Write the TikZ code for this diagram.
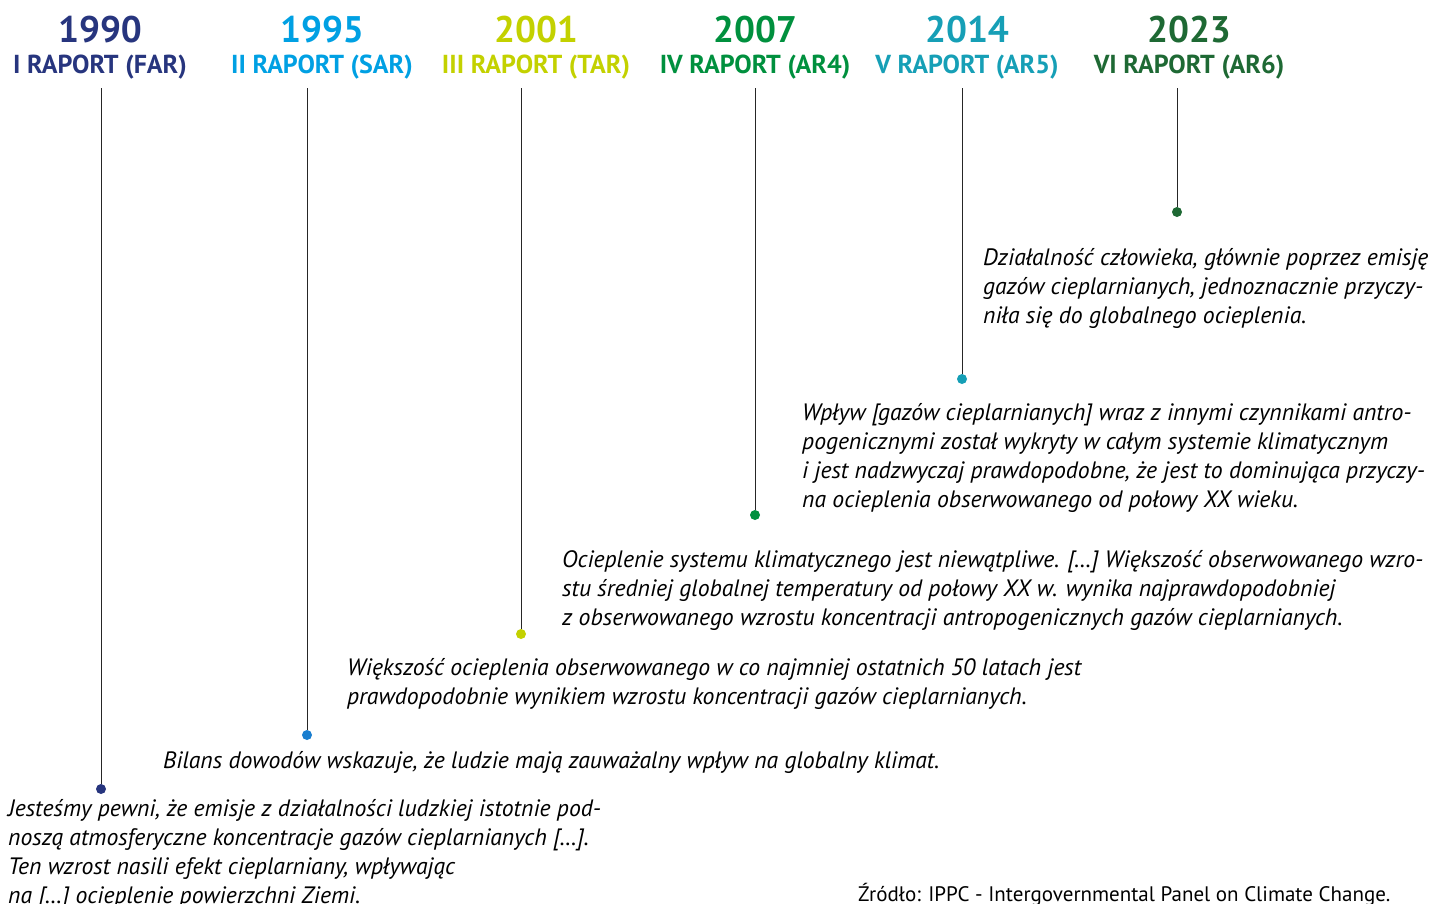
\documentclass[tikz,border=0pt]{standalone}
\usepackage{fontspec}
\setmainfont{PT Sans}
\definecolor{cA}{HTML}{27357E}
\definecolor{cB}{HTML}{00A0E3}
\definecolor{cBd}{HTML}{1A7ECF}
\definecolor{cC}{HTML}{C3D100}
\definecolor{cD}{HTML}{00903E}
\definecolor{cE}{HTML}{169FB6}
\definecolor{cF}{HTML}{1E6934}
\tikzset{
  year/.style={font=\fontsize{37}{37}\selectfont\bfseries, anchor=base, inner sep=0pt},
  rep/.style={font=\fontsize{26}{26}\selectfont\bfseries, anchor=base, inner sep=0pt},
  quote/.style={font=\fontsize{23.7}{29}\selectfont\itshape, anchor=base west, align=left, inner sep=0pt},
  stem/.style={draw=black!85, line width=0.9pt},
  dot/.style={circle, inner sep=0pt, minimum size=10pt},
}
\begin{document}
\begin{tikzpicture}[x=1pt,y=-1pt]
\useasboundingbox (0,0) rectangle (1434,903);
% headers
\node[year, text=cA] (y1) at (100,42) {1990};
\node[rep, text=cA] (r1) at (100,73) {I RAPORT (FAR)};
\node[year, text=cB] (y2) at (322,42) {1995};
\node[rep, text=cB] (r2) at (322,73) {II RAPORT (SAR)};
\node[year, text=cC] (y3) at (536,42) {2001};
\node[rep, text=cC] (r3) at (536,73) {III RAPORT (TAR)};
\node[year, text=cD] (y4) at (755,42) {2007};
\node[rep, text=cD] (r4) at (755,73) {IV RAPORT (AR4)};
\node[year, text=cE] (y5) at (967,42) {2014};
\node[rep, text=cE] (r5) at (967,73) {V RAPORT (AR5)};
\node[year, text=cF] (y6) at (1189,42) {2023};
\node[rep, text=cF] (r6) at (1189,73) {VI RAPORT (AR6)};
% stems and dots
\coordinate (t1) at (101,88); \node[dot, fill=cA] (d1) at (101,789) {};
\coordinate (t2) at (307,88); \node[dot, fill=cBd] (d2) at (307,735) {};
\coordinate (t3) at (521,88); \node[dot, fill=cC] (d3) at (521,634) {};
\coordinate (t4) at (755,88); \node[dot, fill=cD] (d4) at (755,515) {};
\coordinate (t5) at (962,88); \node[dot, fill=cE] (d5) at (962,379) {};
\coordinate (t6) at (1177,88); \node[dot, fill=cF] (d6) at (1177,212) {};
\foreach \i in {1,...,6} \draw[stem] (t\i) -- (d\i.north);
% quotes (anchor = baseline of the last line)
\node[quote] (q6) at (983,323) {Działalność człowieka, głównie poprzez emisję\\gazów cieplarnianych, jednoznacznie przyczy-\\niła się do globalnego ocieplenia.};
\node[quote] (q5) at (802,507) {Wpływ [gazów cieplarnianych] wraz z innymi czynnikami antro-\\pogenicznymi został wykryty w całym systemie klimatycznym\\i jest nadzwyczaj prawdopodobne, że jest to dominująca przyczy-\\na ocieplenia obserwowanego od połowy XX wieku.};
\node[quote] (q4) at (562,625) {Ocieplenie systemu klimatycznego jest niewątpliwe. […] Większość obserwowanego wzro-\\stu średniej globalnej temperatury od połowy XX w. wynika najprawdopodobniej\\z obserwowanego wzrostu koncentracji antropogenicznych gazów cieplarnianych.};
\node[quote] (q3) at (347,704) {Większość ocieplenia obserwowanego w co najmniej ostatnich 50 latach jest\\prawdopodobnie wynikiem wzrostu koncentracji gazów cieplarnianych.};
\node[quote] (q2) at (163,768) {Bilans dowodów wskazuje, że ludzie mają zauważalny wpływ na globalny klimat.};
\node[quote] (q1) at (8,903) {Jesteśmy pewni, że emisje z działalności ludzkiej istotnie pod-\\noszą atmosferyczne koncentracje gazów cieplarnianych […].\\Ten wzrost nasili efekt cieplarniany, wpływając\\na […] ocieplenie powierzchni Ziemi.};
\node[font=\fontsize{21}{21}\selectfont, anchor=base west, inner sep=0pt] (src) at (858,901) {Źródło: IPPC - Intergovernmental Panel on Climate Change.};
\end{tikzpicture}
\end{document}
